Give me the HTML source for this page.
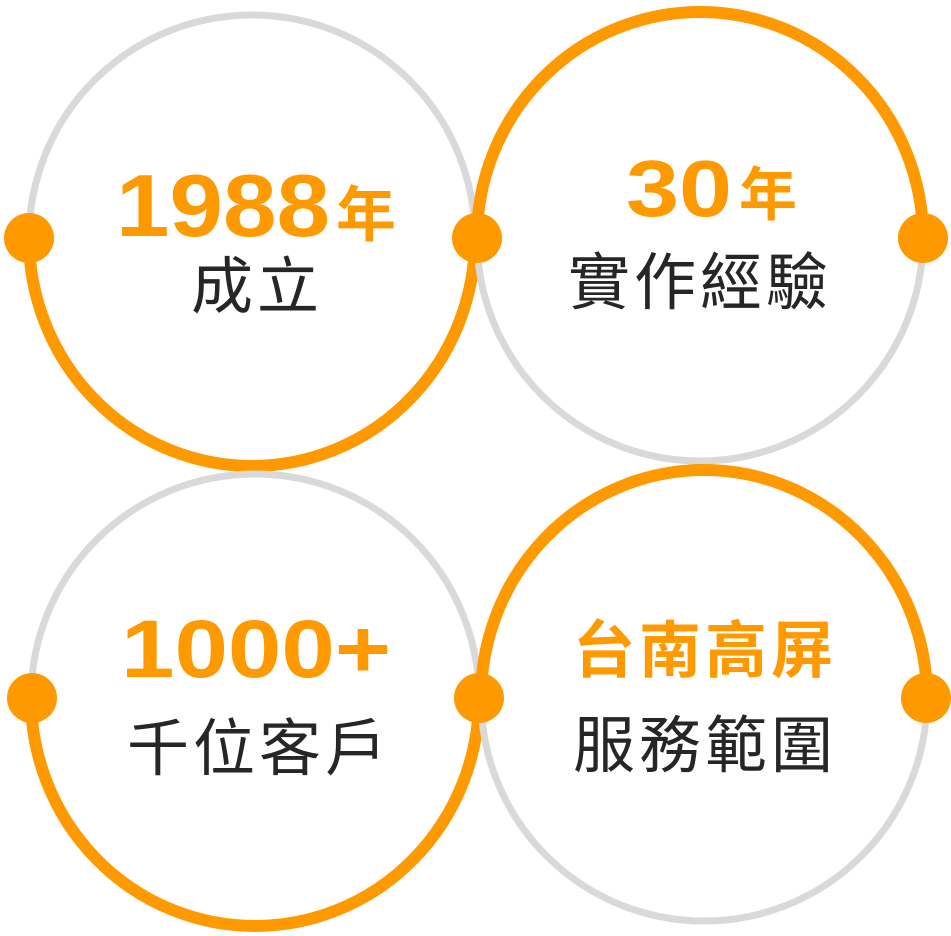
<!DOCTYPE html>
<html><head><meta charset="utf-8"><style>
html,body{margin:0;padding:0;background:#fff;}
svg{display:block}
.n{font-family:"Liberation Sans","Noto Sans CJK TC",sans-serif;font-weight:bold;fill:#FF9900}
.c{font-family:"Noto Sans CJK TC",sans-serif;fill:#262626;letter-spacing:4px}
</style></head><body>
<svg width="951" height="936" viewBox="0 0 951 936" xmlns="http://www.w3.org/2000/svg">
<g fill="none" stroke-linecap="butt">
<path d="M29 238 A223 223 0 0 1 475 238" stroke="#d9d9d9" stroke-width="7"/>
<path d="M29 238 A223 228 0 0 0 475 238" stroke="#FF9900" stroke-width="12"/>
<path d="M477 238 A223 223 0 0 0 923 238" stroke="#d9d9d9" stroke-width="7"/>
<path d="M477 238 A223 226 0 0 1 923 238" stroke="#FF9900" stroke-width="12"/>
<path d="M31 698 A224 224 0 0 1 479 698" stroke="#d9d9d9" stroke-width="7"/>
<path d="M31 698 A224 228 0 0 0 479 698" stroke="#FF9900" stroke-width="12"/>
<path d="M481 698 A223 223 0 0 0 927 698" stroke="#d9d9d9" stroke-width="7"/>
<path d="M481 698 A223 228 0 0 1 927 698" stroke="#FF9900" stroke-width="12"/>
</g>
<g fill="#FF9900">
<circle cx="29" cy="238" r="25"/><circle cx="477" cy="238" r="25"/><circle cx="923" cy="238" r="25"/>
<circle cx="32" cy="698" r="25"/><circle cx="479" cy="698" r="25"/><circle cx="926" cy="698" r="25"/>
</g>
<text class="n" x="116" y="236" font-size="88" textLength="214" lengthAdjust="spacingAndGlyphs">1988</text>
<text class="n" x="336" y="236" font-size="60" font-family="Noto Sans CJK TC">年</text>
<text class="c" x="257" y="308" font-size="62" text-anchor="middle">成立</text>

<text class="n" x="626" y="216" font-size="80" textLength="106" lengthAdjust="spacingAndGlyphs">30</text>
<text class="n" x="739" y="215" font-size="58">年</text>
<text class="c" x="700" y="304" font-size="62" text-anchor="middle">實作經驗</text>

<text class="n" x="121" y="677" font-size="82" textLength="270" lengthAdjust="spacingAndGlyphs">1000+</text>
<text class="c" x="259" y="770" font-size="62" text-anchor="middle">千位客戶</text>

<text class="n" x="705" y="672" font-size="62" text-anchor="middle" font-family="Noto Sans CJK TC" style="letter-spacing:4px">台南高屏</text>
<text class="c" x="705" y="767" font-size="62" text-anchor="middle">服務範圍</text>
</svg>
</body></html>
